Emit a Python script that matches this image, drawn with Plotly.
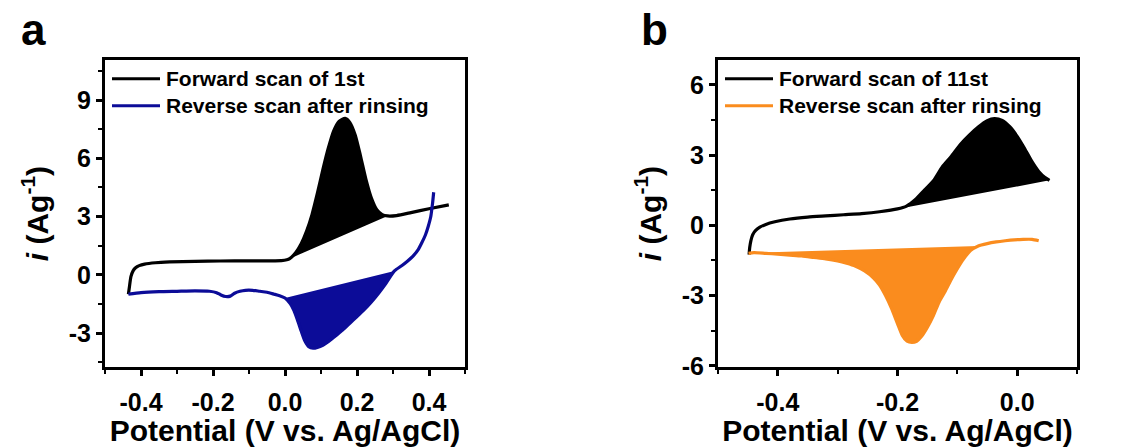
import plotly.graph_objects as go

# ---- Panel a: 1st cycle ----
fwd_a_x = [-0.435, -0.432, -0.428, -0.422, -0.415, -0.405, -0.39, -0.36, -0.32, -0.25,
           -0.18, -0.1, -0.04, -0.01, 0.005, 0.013, 0.03, 0.045, 0.06, 0.075,
           0.09, 0.105, 0.12, 0.135, 0.15, 0.167, 0.18, 0.195, 0.21, 0.225,
           0.24, 0.255, 0.27, 0.285, 0.31, 0.35, 0.40, 0.455]
fwd_a_y = [-1.0, -0.6, -0.1, 0.2, 0.36, 0.47, 0.55, 0.62, 0.66, 0.69,
           0.71, 0.72, 0.72, 0.73, 0.77, 0.83, 1.15, 1.6, 2.25, 3.1,
           4.2, 5.4, 6.5, 7.4, 7.9, 8.05, 7.85, 7.2, 6.1, 4.9,
           3.95, 3.35, 3.1, 3.03, 3.05, 3.2, 3.4, 3.6]

rev_a_x = [0.413, 0.410, 0.405, 0.398, 0.39, 0.38, 0.37, 0.355, 0.34, 0.325,
           0.304, 0.28, 0.26, 0.24, 0.22, 0.2, 0.18, 0.16, 0.14, 0.12,
           0.105, 0.09, 0.078, 0.066, 0.055, 0.045, 0.035, 0.025, 0.015, 0.0,
           -0.015, -0.03, -0.05, -0.07, -0.09, -0.11, -0.125, -0.14, -0.152, -0.165,
           -0.178, -0.19, -0.21, -0.25, -0.3, -0.35, -0.4, -0.435]
rev_a_y = [4.25, 3.7, 3.0, 2.5, 2.05, 1.65, 1.3, 0.95, 0.7, 0.48,
           0.2, -0.45, -0.95, -1.4, -1.8, -2.15, -2.5, -2.85, -3.15, -3.45,
           -3.63, -3.74, -3.78, -3.7, -3.4, -2.9, -2.35, -1.85, -1.5, -1.2,
           -1.08, -1.0, -0.9, -0.85, -0.8, -0.8, -0.85, -0.95, -1.1, -1.12,
           -1.04, -0.92, -0.85, -0.83, -0.85, -0.87, -0.92, -1.0]

# peak windows (integration limits) for the shaded areas
fwd_a_win = (0.013, 0.285)
rev_a_win = (0.0, 0.304)

# ---- Panel b: 11th cycle ----
fwd_b_x = [-0.448, -0.447, -0.445, -0.442, -0.437, -0.43, -0.42, -0.405, -0.38, -0.35,
           -0.32, -0.29, -0.26, -0.23, -0.2, -0.185, -0.17, -0.155, -0.14, -0.125,
           -0.11, -0.095, -0.08, -0.065, -0.05, -0.038, -0.025, -0.012, 0.0, 0.012,
           0.024, 0.036, 0.046, 0.054]
fwd_b_y = [-1.25, -0.95, -0.65, -0.4, -0.22, -0.08, 0.04, 0.15, 0.27, 0.35,
           0.4, 0.45, 0.5, 0.58, 0.7, 0.82, 1.1, 1.5, 1.9, 2.5,
           2.95, 3.45, 3.85, 4.2, 4.47, 4.56, 4.48, 4.2, 3.8, 3.3,
           2.75, 2.3, 2.05, 1.92]

rev_b_x = [0.036, 0.025, 0.01, -0.005, -0.02, -0.035, -0.05, -0.065, -0.078, -0.09,
           -0.1, -0.11, -0.12, -0.13, -0.14, -0.15, -0.16, -0.168, -0.176, -0.184,
           -0.192, -0.2, -0.21, -0.22, -0.23, -0.24, -0.255, -0.27, -0.285, -0.30,
           -0.32, -0.34, -0.36, -0.38, -0.40, -0.42, -0.44, -0.449]
rev_b_y = [-0.66, -0.6, -0.6, -0.62, -0.66, -0.71, -0.78, -0.88, -1.08, -1.45,
           -1.85, -2.3, -2.8, -3.25, -3.85, -4.35, -4.75, -4.95, -5.0, -4.95,
           -4.7, -4.2, -3.55, -3.0, -2.55, -2.25, -1.95, -1.75, -1.62, -1.52,
           -1.43, -1.37, -1.31, -1.27, -1.23, -1.2, -1.17, -1.2]

fwd_b_win = (-0.2, 0.054)
rev_b_win = (-0.44, -0.065)

# tick values and their printed labels (plain hyphen minus)
xticks_a = [-0.4, -0.2, 0.0, 0.2, 0.4]
xlabels_a = ["-0.4", "-0.2", "0.0", "0.2", "0.4"]
yticks_a = [-3, 0, 3, 6, 9]
ylabels_a = ["-3", "0", "3", "6", "9"]
xticks_b = [-0.4, -0.2, 0.0]
xlabels_b = ["-0.4", "-0.2", "0.0"]
yticks_b = [-6, -3, 0, 3, 6]
ylabels_b = ["-6", "-3", "0", "3", "6"]

legend_a = ["Forward scan of 1st", "Reverse scan after rinsing"]
legend_b = ["Forward scan of 11st", "Reverse scan after rinsing"]

BLACK = "#000000"
BLUE = "#0c0c98"
ORANGE = "#fa8c1e"
FONT = "Liberation Sans, Arial, sans-serif"

W, H = 1126, 447


def window(xs, ys, lo, hi):
    pts = [(x, y) for x, y in zip(xs, ys) if lo - 1e-9 <= x <= hi + 1e-9]
    return [p[0] for p in pts], [p[1] for p in pts]


fig = go.Figure()


def add_panel(xs, ys, win, color, xa, ya):
    wx, wy = window(xs, ys, *win)
    # closing the polygon draws the straight baseline under the peak
    fig.add_trace(go.Scatter(x=wx, y=wy, mode="lines", fill="toself",
                             fillcolor=color, line=dict(color=color, width=0),
                             xaxis=xa, yaxis=ya, showlegend=False, hoverinfo="skip"))
    fig.add_trace(go.Scatter(x=xs, y=ys, mode="lines",
                             line=dict(color=color, width=3.2, shape="spline", smoothing=0.6),
                             xaxis=xa, yaxis=ya, showlegend=False))


add_panel(fwd_a_x, fwd_a_y, fwd_a_win, BLACK, "x", "y")
add_panel(rev_a_x, rev_a_y, rev_a_win, BLUE, "x", "y")
add_panel(fwd_b_x, fwd_b_y, fwd_b_win, BLACK, "x2", "y2")
add_panel(rev_b_x, rev_b_y, rev_b_win, ORANGE, "x2", "y2")

ydom = [1 - 378 / H, 1 - 62 / H]

axis_common = dict(showline=True, linewidth=3, linecolor="black", mirror=True,
                   ticks="outside", ticklen=6, tickwidth=2.5, tickcolor="black",
                   showgrid=False, zeroline=False, tickmode="array",
                   tickfont=dict(family=FONT, size=25, color="black", weight="bold"))

title_font = dict(family=FONT, size=30, color="black", weight="bold")
xtitle = "Potential (V vs. Ag/AgCl)"
ytitle = "<i>i</i> (Ag<sup>-1</sup>)"


def minor(step):
    return dict(dtick=step, ticklen=4, tickwidth=2, ticks="outside", tickcolor="black",
                tickmode="linear", tick0=0)


fig.update_layout(
    width=W, height=H, margin=dict(l=0, r=0, t=0, b=0),
    paper_bgcolor="white", plot_bgcolor="white", showlegend=False,
    xaxis=dict(domain=[105 / W, 465 / W], range=[-0.5, 0.5],
               tickvals=xticks_a, ticktext=xlabels_a, minor=minor(0.1), ticklabelstandoff=5,
               title=dict(text=xtitle, font=title_font, standoff=0), anchor="y", **axis_common),
    yaxis=dict(domain=ydom, range=[-4.75, 11.05],
               tickvals=yticks_a, ticktext=ylabels_a, minor=minor(1.5),
               title=dict(text=ytitle, font=title_font, standoff=12), anchor="x", **axis_common),
    xaxis2=dict(domain=[718 / W, 1077 / W], range=[-0.5, 0.1],
                tickvals=xticks_b, ticktext=xlabels_b, minor=minor(0.1), ticklabelstandoff=5,
                title=dict(text=xtitle, font=title_font, standoff=0), anchor="y2", **axis_common),
    yaxis2=dict(domain=ydom, range=[-6.05, 7.05],
                tickvals=yticks_b, ticktext=ylabels_b, minor=minor(1.5),
                title=dict(text=ytitle, font=title_font, standoff=12), anchor="x2", **axis_common),
)


# in-plot legends: short line sample followed by a label
def add_legend(x0, x1, xt, labels, colors):
    for (row_y, label, col) in zip((81, 109), labels, colors):
        yp = 1 - row_y / H
        fig.add_shape(type="line", xref="paper", yref="paper",
                      x0=x0 / W, x1=x1 / W, y0=yp, y1=yp,
                      line=dict(color=col, width=3))
        fig.add_annotation(xref="paper", yref="paper", x=xt / W, y=yp,
                           xanchor="left", yanchor="middle", showarrow=False,
                           text=label, font=dict(family=FONT, size=21, color="black", weight="bold"))


add_legend(112, 160, 164, legend_a, [BLACK, BLUE])
add_legend(725, 773, 777, legend_b, [BLACK, ORANGE])

for lab, xp in (("a", 33), ("b", 654)):
    fig.add_annotation(xref="paper", yref="paper", x=xp / W, y=1 - 30 / H,
                       xanchor="center", yanchor="middle", showarrow=False,
                       text=lab, font=dict(family=FONT, size=44, color="black", weight="bold"))

fig.write_html("out.html")
